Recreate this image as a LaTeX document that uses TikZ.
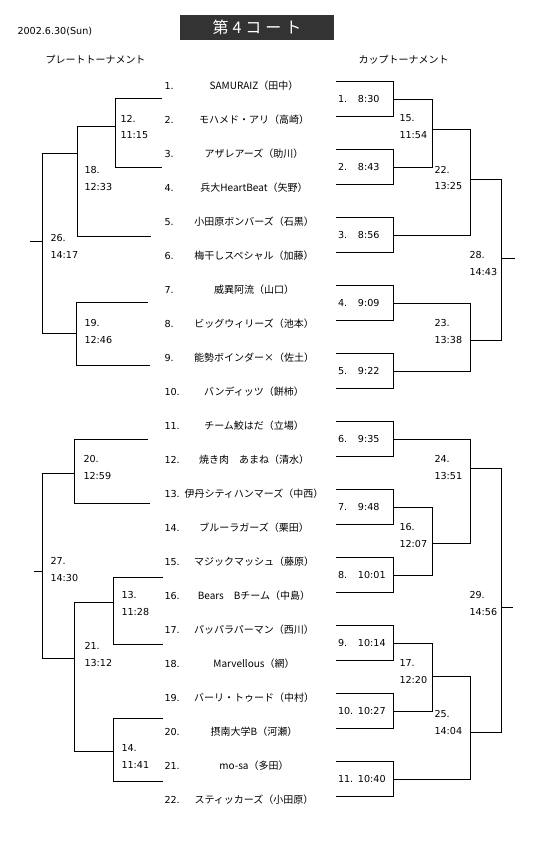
\documentclass[tikz,border=0pt]{standalone}
\usepackage{fontspec}
\setmainfont{Noto Sans CJK JP}
\newfontfamily\numfont{DejaVu Sans}
\definecolor{titlegray}{HTML}{333333}

\begin{document}
\begin{tikzpicture}[x=1pt,y=-1pt,line width=1pt,
    every node/.style={font=\fontsize{10}{17}\selectfont,inner sep=0pt},
    digits/.style={font=\numfont\fontsize{9.6}{17}\selectfont},
    teamno/.style={digits,anchor=west},
    matchlbl/.style={digits,anchor=west,align=left},
    cupbox/.style={digits,minimum width=57pt,minimum height=34pt,text width=53pt,inner xsep=2pt,align=left}]
  \useasboundingbox (0,0) rectangle (546,847);
  % heading
  \node[fill=titlegray,text=white,minimum width=154pt,minimum height=25pt,
        font=\fontsize{16}{16}\selectfont] (title) at (257,27.5)
        {第\hspace{4pt}4\hspace{4pt}コ\hspace{4pt}ー\hspace{4pt}ト};
  \node[digits,anchor=west] (date) at (17,31) {2002.6.30(Sun)};
  \node[anchor=west] (plate) at (45,60) {プレートトーナメント};
  \node[anchor=west] (cup) at (358,60) {カップトーナメント};
  % teams
  \foreach \i/\tn in {1/SAMURAIZ（田中）,2/モハメド・アリ（高崎）,3/アザレアーズ（助川）,
      4/兵大HeartBeat（矢野）,5/小田原ボンバーズ（石黒）,6/梅干しスペシャル（加藤）,
      7/威異阿流（山口）,8/ビッグウィリーズ（池本）,9/能勢ボインダー×（佐土）,
      10/バンディッツ（餅柿）,11/チーム鮫はだ（立場）,12/焼き肉　あまね（清水）,
      13/伊丹シティハンマーズ（中西）,14/ブルーラガーズ（栗田）,15/マジックマッシュ（藤原）,
      16/Bears　Bチーム（中島）,17/パッパラパーマン（西川）,18/Marvellous（網）,
      19/バーリ・トゥード（中村）,20/摂南大学B（河瀬）,21/mo-sa（多田）,
      22/スティッカーズ（小田原）}{
    \node[teamno] (n\i) at (164,{86+34*(\i-1)}) {\i.};
    \node (t\i) at (254,{86+34*(\i-1)}) {\tn};
  }

  % plate tournament
  \coordinate (l1) at (162,98);  \coordinate (l2) at (162,167);
  \coordinate (l3) at (151,236);
  \coordinate (l4) at (148,302); \coordinate (l5) at (150,365);
  \coordinate (l6) at (148,439); \coordinate (l7) at (150,503);
  \coordinate (l8) at (163,577); \coordinate (l9) at (163,644);
  \coordinate (l10) at (163,718); \coordinate (l11) at (163,781);
  \coordinate (o12) at (115,126); \coordinate (o18) at (77,153);
  \coordinate (o19) at (76,333);  \coordinate (o26) at (42,241);
  \coordinate (o20) at (74,473);  \coordinate (o13) at (113,602);
  \coordinate (o14) at (113,751); \coordinate (o21) at (74,658);
  \coordinate (o27) at (42,571);
  \coordinate (e26) at (30,241);  \coordinate (e27) at (34,571);
  \draw (l1) -| (o12 |- l2) -- (l2);
  \draw (o12) -| (o18 |- l3) -- (l3);
  \draw (l4) -| (o19 |- l5) -- (l5);
  \draw (o18) -| (o26 |- o19) -- (o19);
  \draw (o26) -- (e26);
  \draw (l6) -| (o20 |- l7) -- (l7);
  \draw (l8) -| (o13 |- l9) -- (l9);
  \draw (l10) -| (o14 |- l11) -- (l11);
  \draw (o13) -| (o21 |- o14) -- (o14);
  \draw (o20) -| (o27 |- o21) -- (o21);
  \draw (o27) -- (e27);
  \node[matchlbl] (m12) at (120,127) {12.\\11:15};
  \node[matchlbl] (m18) at (84,178.5) {18.\\12:33};
  \node[matchlbl] (m19) at (84,331) {19.\\12:46};
  \node[matchlbl] (m26) at (50,246.5) {26.\\14:17};
  \node[matchlbl] (m20) at (83,467) {20.\\12:59};
  \node[matchlbl] (m13) at (121,603.5) {13.\\11:28};
  \node[matchlbl] (m14) at (121,756) {14.\\11:41};
  \node[matchlbl] (m21) at (84,654.5) {21.\\13:12};
  \node[matchlbl] (m27) at (50,569.5) {27.\\14:30};

  % cup tournament
  \foreach \mi/\tm in {1/8:30,2/8:43,3/8:56,4/9:09,5/9:22,6/9:35,7/9:48,
      8/10:01,9/10:14,10/10:27,11/10:40}{
    \node[cupbox] (m\mi) at (364.5,{99+68*(\mi-1)}) {\makebox[20pt][l]{\mi.}\tm};
    \draw (m\mi.north west) -| (m\mi.south east) -- (m\mi.south west);
  }
  \coordinate (o15) at (432,129); \coordinate (o16) at (432,543);
  \coordinate (o17) at (432,676); \coordinate (o22) at (470,179);
  \coordinate (o23) at (470,340); \coordinate (o24) at (470,468);
  \coordinate (o25) at (470,732); \coordinate (o28) at (501,258);
  \coordinate (o29) at (501,607);
  \coordinate (e28) at (515,258); \coordinate (e29) at (513,607);
  \draw (m1.east) -| (o15 |- m2.east) -- (m2.east);
  \draw (m7.east) -| (o16 |- m8.east) -- (m8.east);
  \draw (m9.east) -| (o17 |- m10.east) -- (m10.east);
  \draw (o15) -| (o22 |- m3.east) -- (m3.east);
  \draw (m4.east) -| (o23 |- m5.east) -- (m5.east);
  \draw (m6.east) -| (o24 |- o16) -- (o16);
  \draw (o17) -| (o25 |- m11.east) -- (m11.east);
  \draw (o22) -| (o28 |- o23) -- (o23);
  \draw (o24) -| (o29 |- o25) -- (o25);
  \draw (o28) -- (e28);
  \draw (o29) -- (e29);
  \node[matchlbl] (m15) at (399,127) {15.\\11:54};
  \node[matchlbl] (m16) at (399,535) {16.\\12:07};
  \node[matchlbl] (m17) at (399,671.5) {17.\\12:20};
  \node[matchlbl] (m22) at (434,178) {22.\\13:25};
  \node[matchlbl] (m23) at (434,331) {23.\\13:38};
  \node[matchlbl] (m24) at (434,467.5) {24.\\13:51};
  \node[matchlbl] (m25) at (434,722) {25.\\14:04};
  \node[matchlbl] (m28) at (469,263) {28.\\14:43};
  \node[matchlbl] (m29) at (469,603) {29.\\14:56};
\end{tikzpicture}
\end{document}
